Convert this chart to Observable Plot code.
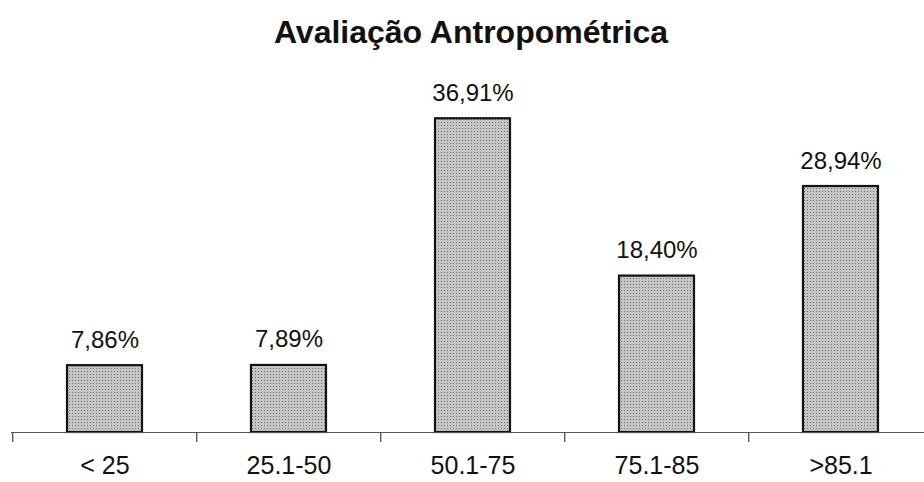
<!DOCTYPE html>
<html>
<head>
<meta charset="utf-8">
<script src="https://cdn.jsdelivr.net/npm/d3@7"></script>
<script src="https://cdn.jsdelivr.net/npm/@observablehq/plot@0.6"></script>
<style>
  html, body { margin: 0; padding: 0; background: #fff; }
  body { width: 924px; height: 482px; overflow: hidden; font-family: "Liberation Sans", Arial, sans-serif; }
  #title { height: 65px; line-height: 65px; font-size: 32px; font-weight: bold; text-align: center; padding-left: 18px; color: #111; box-sizing: border-box; }
</style>
</head>
<body>
<div id="title">Avaliação Antropométrica</div>
<div id="chart"></div>
<script>
const categories = ["< 25", "25.1-50", "50.1-75", "75.1-85", ">85.1"];
const values = [7.86, 7.89, 36.91, 18.40, 28.94];

const data = categories.map((c, i) => ({category: c, value: values[i]}));
const fmt = v => v.toFixed(2).replace(".", ",") + "%";

const W = 924, H = 417;
const x0 = 11, x1 = 933.5;
const step = (x1 - x0) / categories.length;

const plot = Plot.plot({
  width: W,
  height: H,
  marginTop: 27,
  marginBottom: 50,
  marginLeft: 11,
  marginRight: 0,
  style: {fontFamily: "'Liberation Sans', Arial, sans-serif", background: "#fff", color: "#111"},
  x: {domain: categories, range: [x0, x1], paddingInner: 0.59, paddingOuter: 0.295, align: 0.5, label: null},
  y: {domain: [0, 40], axis: null},
  marks: [
    Plot.barY(data, {x: "category", y: "value", fill: "url(#dots)", stroke: "#111", strokeWidth: 2.2}),
    Plot.ruleY([0], {stroke: "#555", strokeWidth: 1.2}),
    Plot.axisX({tickSize: 10, tickFormat: () => "", dx: -step / 2, stroke: "#444", strokeWidth: 1.2}),
    Plot.axisX({tickSize: 0, tickPadding: 24, fontSize: 25, fill: "#111", label: null}),
    Plot.text(data, {x: "category", y: "value", text: d => fmt(d.value), lineAnchor: "bottom", dy: -18, fontSize: 24, fill: "#111"})
  ]
});

const svg = d3.select(plot);
const defs = svg.insert("defs", ":first-child");
const pat = defs.append("pattern").attr("id", "dots").attr("patternUnits", "userSpaceOnUse")
  .attr("width", 3).attr("height", 3);
pat.append("rect").attr("width", 3).attr("height", 3).attr("fill", "#c6c6c6");
pat.append("rect").attr("width", 1).attr("height", 1).attr("fill", "#6e6e6e");

document.getElementById("chart").appendChild(plot);
</script>
</body>
</html>
